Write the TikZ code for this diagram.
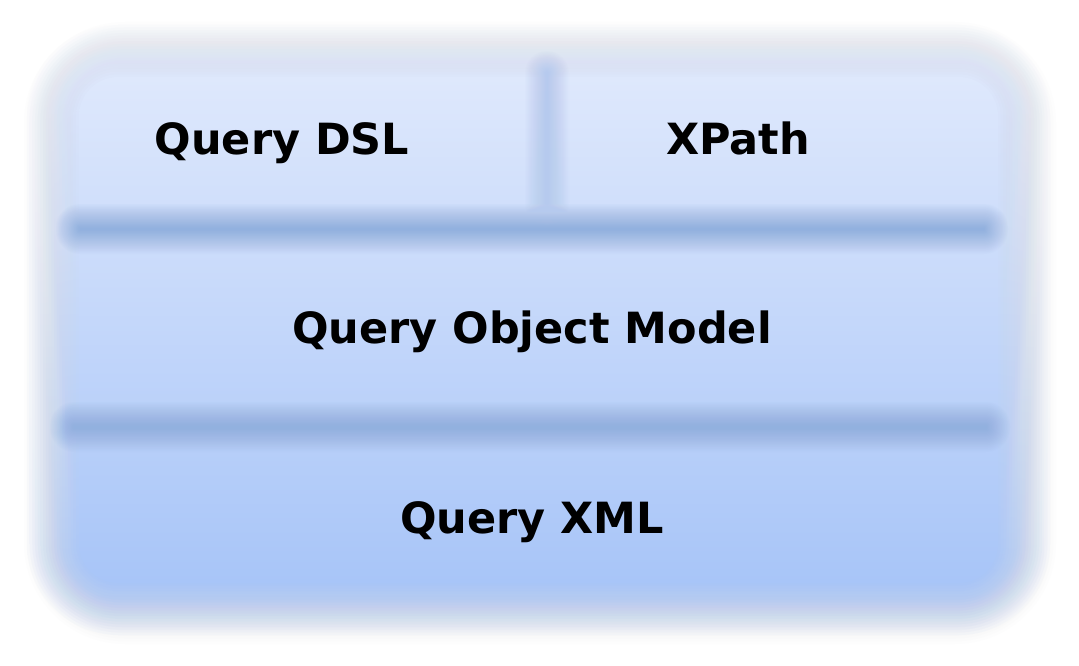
\documentclass[tikz,border=0pt]{standalone}
\usepackage{fontspec}
\setmainfont{DejaVu Sans}
\definecolor{shadowcol}{HTML}{D9DCE3}
\definecolor{topblue}{HTML}{DEE8FC}
\definecolor{botblue}{HTML}{A8C5F8}
\definecolor{bandcol}{HTML}{92B1DF}
\definecolor{vbandcol}{HTML}{B6CAEE}
% blurred rounded rectangle: x1 y1 x2 y2 radius blur style
\newcommand\myblurbox[7]{%
  \foreach \k in {1,...,20}{%
    \pgfmathsetmacro\o{#6*(1-2*(\k-1)/19)}%
    \pgfmathsetmacro\a{1/(21-\k)}%
    \pgfmathsetmacro\rr{max(#5+\o,0.5)}%
    \path[#7, fill opacity=\a, rounded corners=\rr pt] (#1-\o,#2-\o) rectangle (#3+\o,#4+\o);
  }}
\tikzset{
  lbl/.style={anchor=base, font=\fontsize{43}{50}\selectfont\bfseries, text=black, inner sep=0pt},
  shadowfill/.style={fill=shadowcol},
  boxfill/.style={top color=topblue, bottom color=botblue, draw=none},
  bandfill/.style={fill=bandcol},
  vbandfill/.style={fill=vbandcol}
}
\begin{document}
\begin{tikzpicture}[x=1pt,y=-1pt]
  \useasboundingbox[fill=white] (0,0) rectangle (1079,666);
  % shadow
  \myblurbox{50}{48}{1030}{618}{75}{26}{shadowfill}
  % main box
  \myblurbox{53}{51}{1024}{609}{65}{26}{boxfill}
  % bands
  \myblurbox{68}{216}{996}{242}{12}{12}{bandfill}
  \myblurbox{62}{414}{998}{440}{12}{12}{bandfill}
  \myblurbox{536}{62}{558}{214}{11}{11}{vbandfill}
  % labels
  \node[lbl] (dsl) at (282,155) {Query DSL};
  \node[lbl] (xpath) at (738,155) {XPath};
  \node[lbl] (qom) at (532,343) {Query Object Model};
  \node[lbl] (xml) at (532,533) {Query XML};
\end{tikzpicture}
\end{document}
